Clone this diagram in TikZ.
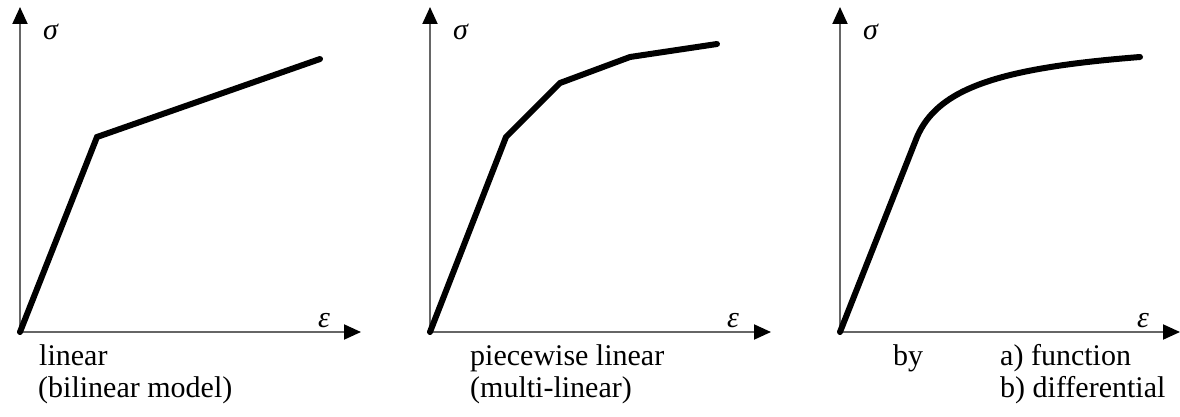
\documentclass[tikz,border=0pt]{standalone}
\usepackage{fontspec}
\setmainfont{Liberation Serif}
\usetikzlibrary{arrows.meta}
\begin{document}
\begin{tikzpicture}[x=1pt,y=-1pt,
  axis/.style={draw=black!60, line width=2pt, -{Triangle[length=17pt,width=15pt,fill=black,color=black]}},
  curve/.style={line width=6pt, line join=miter, line cap=round},
  lbl/.style={anchor=base west, inner sep=0pt, font=\fontsize{30}{32}\selectfont},
  sym/.style={anchor=base west, inner sep=0pt, font=\fontsize{30}{32}\selectfont\itshape}]
\useasboundingbox (0,0) rectangle (1180,417);
% panel 1
\coordinate (o1) at (20,332);
\coordinate (y1) at (20,7);
\coordinate (x1) at (361,332);
\draw[axis] (o1) -- (y1);
\draw[axis] (o1) -- (x1);
\draw[curve] (o1) -- (97,137) -- (320,59);
\node[sym] (s1) at (43,40) {σ};
\node[sym] (e1) at (318,327) {ε};
\node[lbl] (l1a) at (39,365) {linear};
\node[lbl] (l1b) at (38,397) {(bilinear model)};
% panel 2
\coordinate (o2) at (430,332);
\coordinate (y2) at (430,7);
\coordinate (x2) at (771,332);
\draw[axis] (o2) -- (y2);
\draw[axis] (o2) -- (x2);
\draw[curve] (o2) -- (506,137) -- (560,83) -- (630,57) -- (717,44);
\node[sym] (s2) at (453,40) {σ};
\node[sym] (e2) at (727,327) {ε};
\node[lbl] (l2a) at (470,365) {piecewise linear};
\node[lbl] (l2b) at (470,397) {(multi-linear)};
% panel 3
\coordinate (o3) at (840,332);
\coordinate (y3) at (840,7);
\coordinate (x3) at (1180,332);
\draw[axis] (o3) -- (y3);
\draw[axis] (o3) -- (x3);
\draw[curve] (o3) -- (917,137) .. controls (938,88) and (1000,68) .. (1140,57);
\node[sym] (s3) at (863,40) {σ};
\node[sym] (e3) at (1137,327) {ε};
\node[lbl] (l3a) at (893,365) {by};
\node[lbl] (l3b) at (1000,365) {a) function};
\node[lbl] (l3c) at (1000,397) {b) differential};
\end{tikzpicture}
\end{document}
